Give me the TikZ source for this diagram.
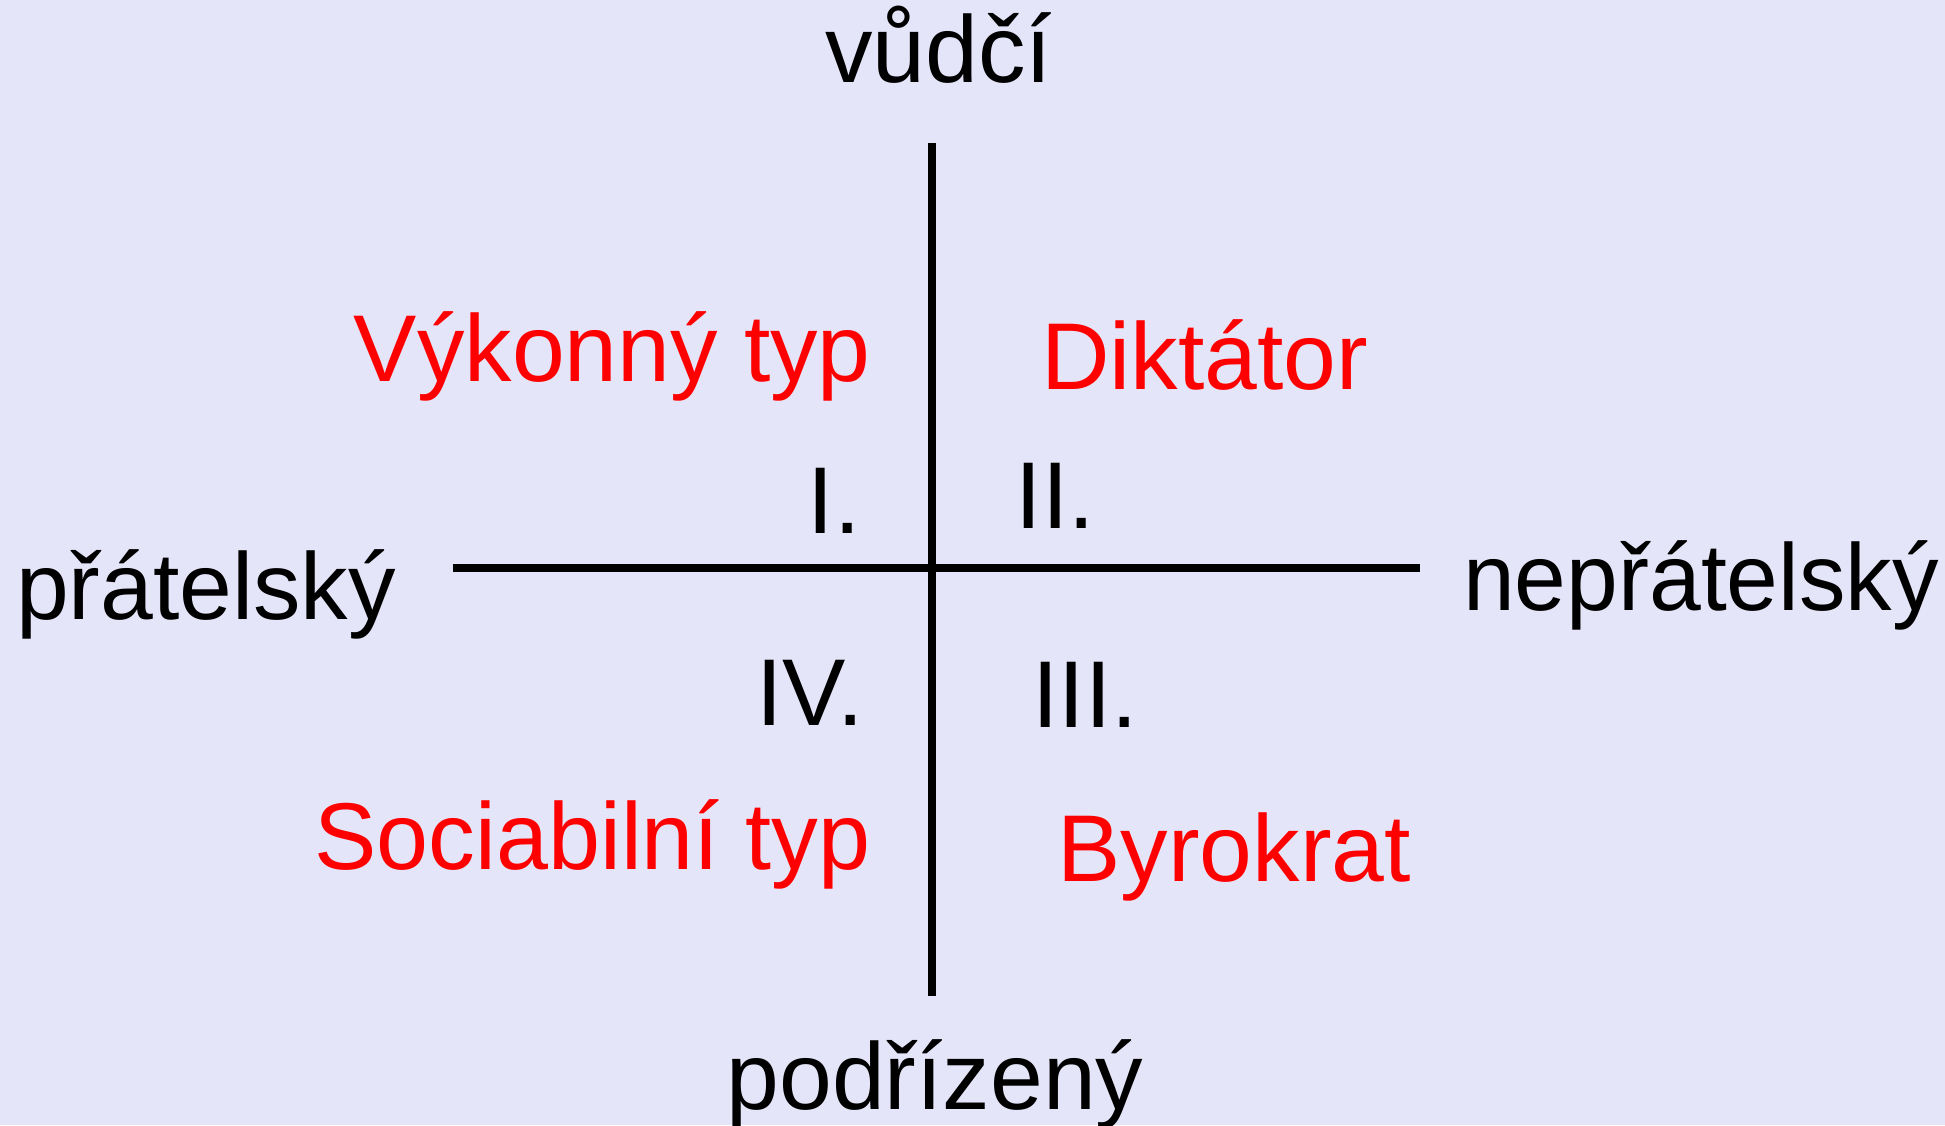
\documentclass[tikz,border=0pt]{standalone}
\usepackage{fontspec}
\setmainfont{Liberation Sans}
\usepackage{xcolor}
\usetikzlibrary{
	calc,          %计算
	backgrounds    %背景路径
}
\definecolor{pozadi}{RGB}{229,229,249}
\tikzset{
	every picture/.style={
		>=latex
}}
\tikzset{
	osa/.style={line width=0.8mm},
	popis/.style={inner sep=0pt,anchor=base,
		font=\fontsize{27}{32}\selectfont},
	typ/.style={popis,text=red}
}

\begin{document}
\begin{tikzpicture}[x=1mm,y=1mm]
\fill[pozadi] (0,0) rectangle (194.5,112.5);
\useasboundingbox (0,0) rectangle (194.5,112.5);
% osy
\coordinate (horni) at (93.23,98.24);
\coordinate (dolni) at (93.23,12.90);
\coordinate (leva) at (45.27,55.67);
\coordinate (prava) at (142.00,55.67);
\draw[osa] (horni) -- (dolni);
\draw[osa] (leva) -- (prava);
% popisy os
\node[popis] (vudci) at (93.85,104.23) {vůdčí};
\node[popis] (podrizeny) at (93.50,1.57) {podřízený};
\node[popis] (pratelsky) at (20.60,50.57) {přátelský};
\node[popis,xscale=0.98] (nepratelsky) at (170.10,51.50) {nepřátelský};
% kvadranty
\node[popis] (q1) at (83.40,59.13) {I.};
\node[popis] (q2) at (105.55,59.70) {II.};
\node[popis] (q3) at (108.50,39.77) {III.};
\node[popis] (q4) at (80.99,39.93) {IV.};
% typy
\node[typ] (vykonny) at (61.23,74.40) {Výkonný typ};
\node[typ] (diktator) at (120.47,73.57) {Diktátor};
\node[typ] (byrokrat) at (123.43,24.33) {Byrokrat};
\node[typ,xscale=0.985] (sociabilni) at (59.25,25.57) {Sociabilní typ};
\end{tikzpicture}
\end{document}
